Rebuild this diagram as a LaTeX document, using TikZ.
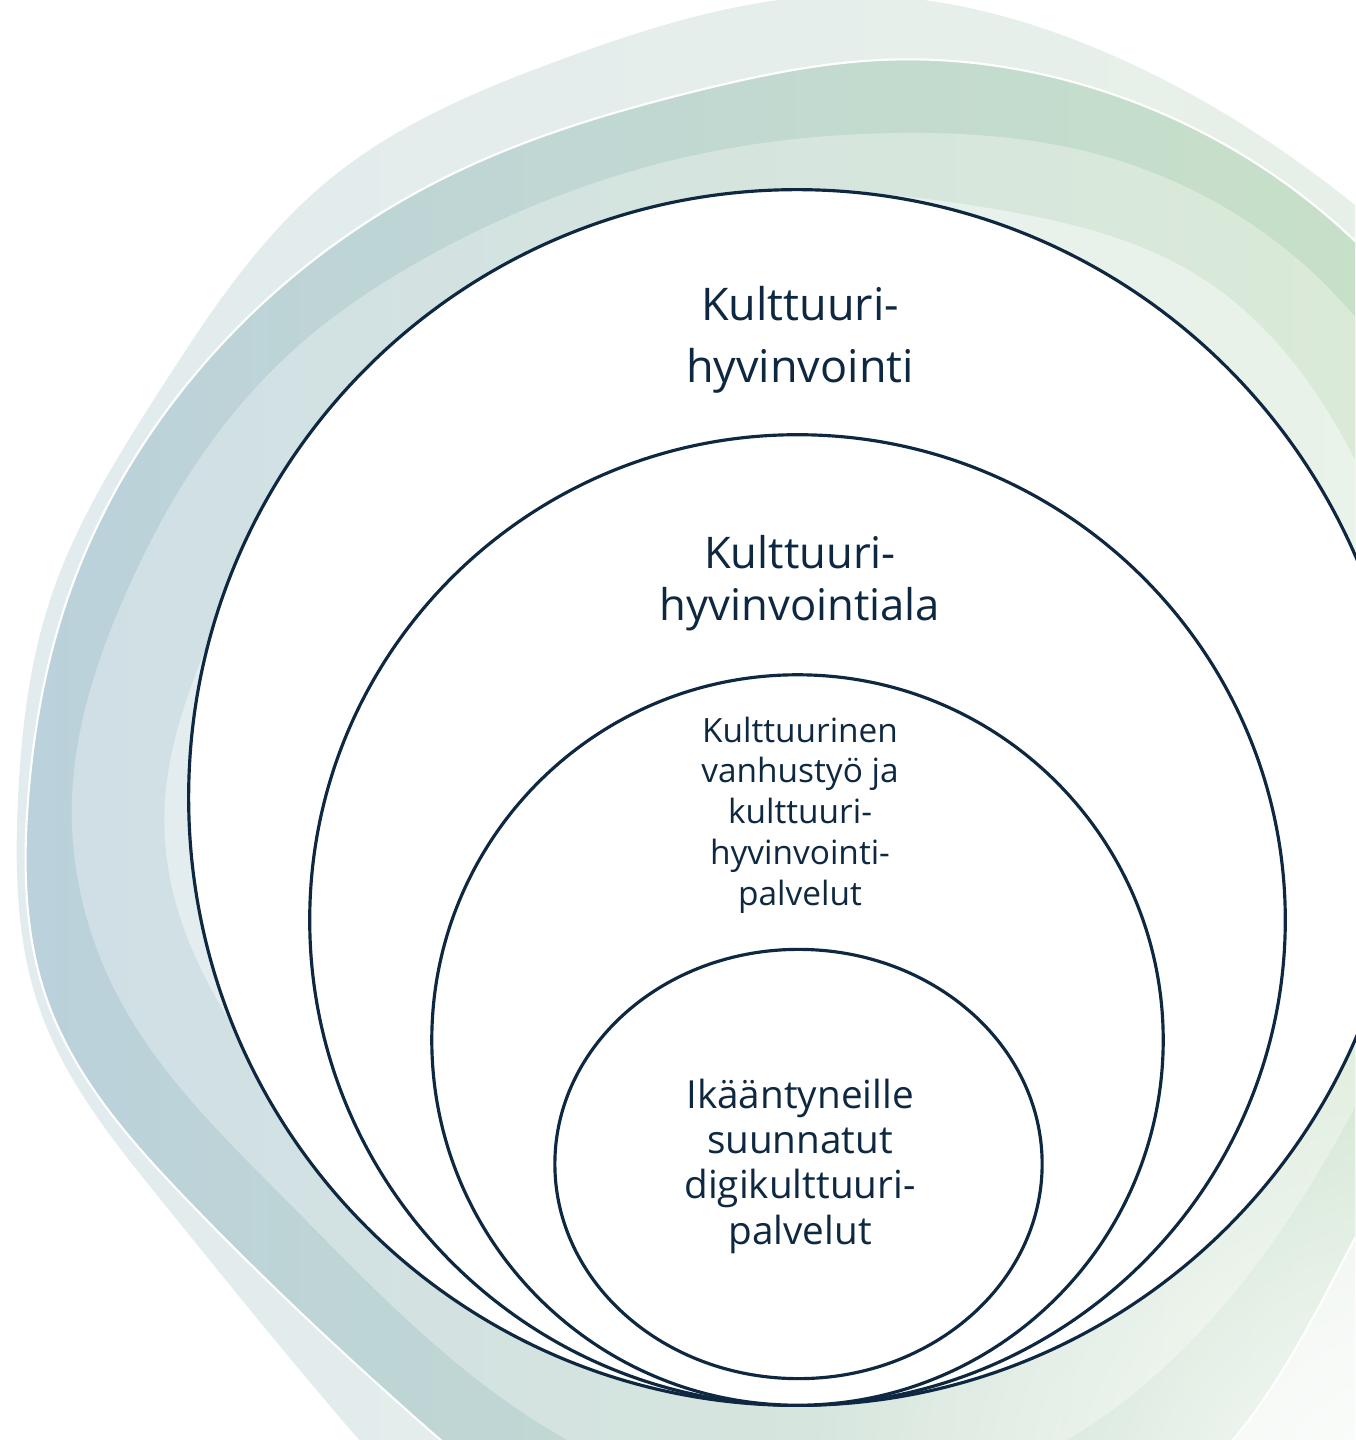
\documentclass[tikz,border=0pt]{standalone}
\usepackage{fontspec}
\setmainfont{Open Sans}
\usepackage{tikz}
\usetikzlibrary{fadings,hobby}
\usepackage{xcolor}

\definecolor{navy}{HTML}{0E2841}
\definecolor{outerL}{HTML}{E2EBEE}
\definecolor{outerM}{HTML}{E6EFEB}
\definecolor{outerR}{HTML}{E9F2E6}
\definecolor{darkL}{HTML}{BBD1DB}
\definecolor{darkM}{HTML}{C3D9D3}
\definecolor{darkR}{HTML}{C9E2C5}
\definecolor{midL}{HTML}{D0DFE5}
\definecolor{midM}{HTML}{D6E5E0}
\definecolor{midR}{HTML}{DBEBD6}
\definecolor{paleL}{HTML}{E3EDF0}
\definecolor{paleR}{HTML}{EAF3E8}

\tikzfading[name=cornerfade, inner color=transparent!0, outer color=transparent!100]

\tikzset{
  ring/.style={draw=navy, line width=0.9pt, fill=white},
  lbl/.style={text=navy, align=center, inner sep=0pt},
  swoosh/.style={use Hobby shortcut, closed=true},
}

\begin{document}
\begin{tikzpicture}[x=0.01cm, y=-0.01cm]
\useasboundingbox (0,0) rectangle (1355,1440);

% swoosh
\begin{scope}
\clip (0,0) rectangle (1355,1440);
\shade[swoosh, left color=outerL, middle color=outerM, right color=outerR]
  (1355,205) .. (1100,50) .. (850,-5) .. (560,60) .. (330,179) .. (160,390) .. (50,600) .. (18,800)
  .. (40,1010) .. (161,1200) .. (330,1406) .. (600,1650) .. (1200,1650) .. (1600,1200) .. (1650,600);
\path[swoosh, left color=darkL, middle color=darkM, right color=darkR, draw=white, line width=0.6pt]
  (1355,241) .. (1100,90) .. (880,60) .. (700,90) .. (440,180) .. (210,357) .. (67,600) .. (28,800)
  .. (47,1000) .. (187,1200) .. (402,1406) .. (700,1600) .. (1233,1440) .. (1355,1238) .. (1550,750);
\shade[swoosh, left color=midL, middle color=midM, right color=midR]
  (1355,317) .. (1100,155) .. (900,133) .. (700,154) .. (440,250) .. (286,357) .. (123,600) .. (72,800)
  .. (120,1000) .. (286,1200) .. (513,1406) .. (800,1510) .. (1067,1440) .. (1355,1107) .. (1480,700);
\shade[swoosh, left color=paleL, right color=paleR]
  (700,200) .. (1000,210) .. (1200,277) .. (1355,460) .. (1420,750) .. (1250,1100) .. (800,1390)
  .. (400,1250) .. (260,1070) .. (175,900) .. (165,800) .. (205,650) .. (385,357);
\fill[white, path fading=cornerfade] (1430,1540) circle [radius=6.4cm];
\end{scope}

% circles
\draw[ring] (797,797.5) ellipse [x radius=6.08cm, y radius=6.075cm];
\draw[ring] (797.5,920) ellipse [x radius=4.875cm, y radius=4.85cm];
\draw[ring] (797.5,1040) ellipse [x radius=3.655cm, y radius=3.65cm];
\draw[ring] (798.5,1164) ellipse [x radius=2.435cm, y radius=2.145cm];

% texts
\node[lbl, font=\fontsize{12.8}{17.6}\selectfont] (hyvinvointi) at (800,340) {Kulttuuri-\\hyvinvointi};
\node[lbl, font=\fontsize{12.4}{14.8}\selectfont] (ala) at (800,583) {Kulttuuri-\\hyvinvointiala};
\node[lbl, font=\fontsize{9.5}{11.6}\selectfont] (vanhustyo) at (800,815) {Kulttuurinen\\vanhustyö ja\\kulttuuri-\\hyvinvointi-\\palvelut};
\node[lbl, font=\fontsize{11}{12.9}\selectfont] (digi) at (800,1166) {Ikääntyneille\\suunnatut\\digikulttuuri-\\palvelut};

\end{tikzpicture}
\end{document}
